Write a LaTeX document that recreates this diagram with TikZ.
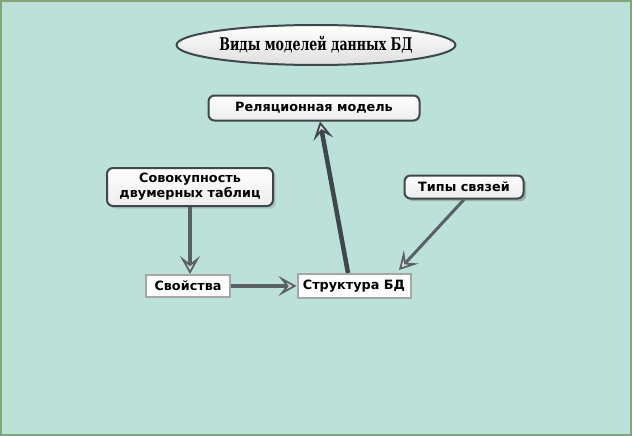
\documentclass[tikz,border=0pt]{standalone}
\usepackage{fontspec}
\setmainfont{DejaVu Sans}
\newfontfamily\titlefont{DejaVu Serif Condensed}
\usetikzlibrary{arrows.meta,shadows,shapes.geometric}
\definecolor{fon}{RGB}{188,225,216}
\definecolor{rama}{RGB}{130,165,120}
\definecolor{linia}{RGB}{62,72,74}
\definecolor{strelka}{RGB}{88,98,100}

\begin{document}
\begin{tikzpicture}[x=1pt,y=-1pt,
		blok/.style={draw=linia,line width=2pt,rounded corners=6pt,top color=white,bottom color=gray!15,
			font=\bfseries\fontsize{12.8}{15}\selectfont,align=center,inner sep=2pt},
		pryam/.style={draw=gray!70,line width=2pt,fill=white,font=\bfseries\fontsize{12.8}{15}\selectfont,inner sep=2pt},
		strel/.style={line width=4.5pt,draw=strelka,-{Stealth[length=18pt,width=20pt,inset=8pt,open,line width=1.8pt,fill=gray!25]}}]
		\fill[fon,draw=rama,line width=2pt] (1,1) rectangle (631,435); %fon
		\node[ellipse,draw=linia,line width=2pt,top color=white,bottom color=gray!25,inner xsep=2pt,minimum height=40pt,
			font=\titlefont\bfseries\fontsize{14}{16}\selectfont] (vidy) at (316,45) {\scalebox{1}[1.25]{Виды моделей данных БД}};
		\node[blok,minimum width=211pt,minimum height=25pt] (rel) at (314,108) {Реляционная модель};
		\node[blok,minimum width=166pt,minimum height=38pt,drop shadow={opacity=0.3}] (sov) at (190,187) {Совокупность\\двумерных таблиц};
		\node[blok,minimum width=119pt,minimum height=23pt,drop shadow={opacity=0.5}] (tip) at (464,187) {Типы связей};
		\node[pryam,minimum width=84pt,minimum height=22pt] (svo) at (188,286) {Свойства};
		\node[pryam,minimum width=113pt,minimum height=24pt] (struk) at (354,286) {Структура БД};
		\draw[strel] (sov.south) -- (sov.south |- svo.north); %vniz
		\draw[strel] (svo) -- (struk);
		\draw[strel,draw=linia] ([xshift=-6pt]struk.north) -- ([xshift=6pt]rel.south);
		\draw[strel,line width=3pt] (tip.south) -- ([xshift=45pt,yshift=3pt]struk.north); %svyazi
	\end{tikzpicture}
\end{document}
